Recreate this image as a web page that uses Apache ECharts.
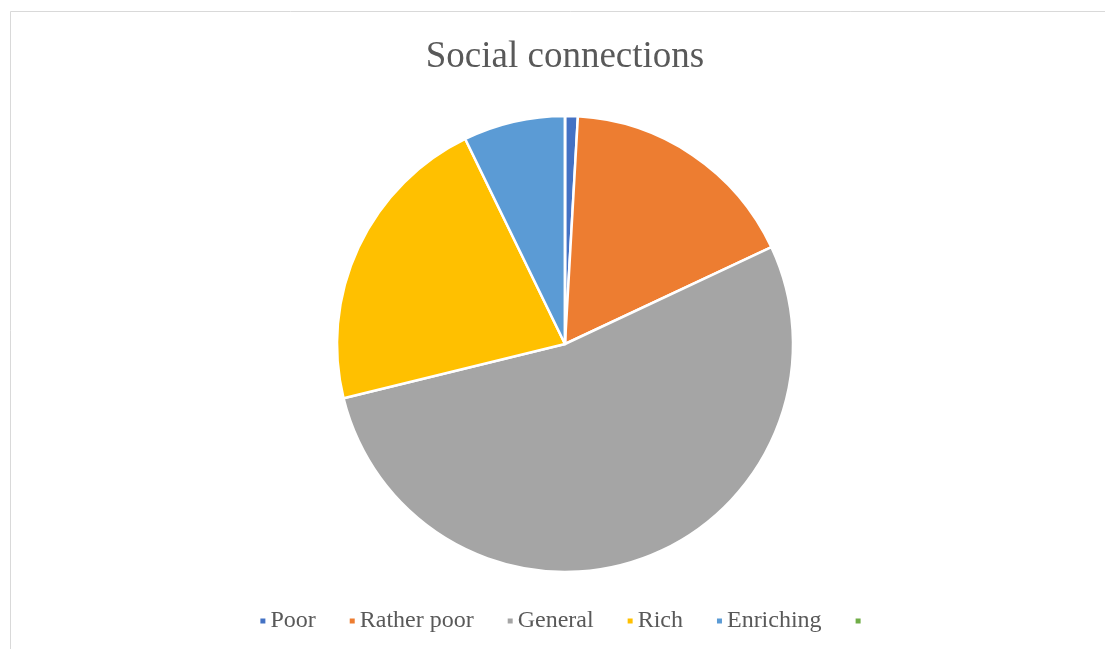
<!DOCTYPE html>
<html>
<head>
<meta charset="utf-8">
<script src="https://cdn.jsdelivr.net/npm/echarts@6/dist/echarts.min.js"></script>
<style>
  html, body { margin: 0; padding: 0; background: #ffffff; overflow: hidden; }
  #wrap { width: 1105px; height: 649px; overflow: hidden; }
  /* the chart area runs a little past the right edge of the view */
  #chart { width: 1130px; height: 649px; }
</style>
</head>
<body>
<div id="wrap"><div id="chart"></div></div>
<script>
// Survey answers: how people rate their social connections (respondent counts)
const categories = ['Poor', 'Rather poor', 'General', 'Rich', 'Enriching', ' '];
const counts = [1, 19, 59, 24, 8, 0];
const colors = ['#4472C4', '#ED7D31', '#A5A5A5', '#FFC000', '#5B9BD5', '#70AD47'];

const chart = echarts.init(document.getElementById('chart'), null, { renderer: 'canvas' });

const pieData = categories.map((name, i) => ({
  name: name,
  value: counts[i],
  itemStyle: { color: colors[i] }
}));

chart.setOption({
  backgroundColor: '#ffffff',
  animation: false,
  title: {
    text: 'Social connections',
    left: 'center',
    top: 34,
    textStyle: {
      fontFamily: 'Liberation Serif',
      fontSize: 37,
      fontWeight: 'normal',
      color: '#595959'
    }
  },
  legend: {
    data: categories,
    bottom: 11,
    left: 'center',
    icon: 'rect',
    itemWidth: 7,
    itemHeight: 7,
    itemGap: 32,
    textStyle: {
      fontFamily: 'Liberation Serif',
      fontSize: 24,
      color: '#595959',
      padding: [0, 0, 0, -1]
    }
  },
  graphic: [{
    type: 'rect',
    silent: true,
    shape: { x: 10.5, y: 11.5, width: 1200, height: 800 },
    style: { fill: null, stroke: '#d9d9d9', lineWidth: 1 }
  }],
  series: [{
    type: 'pie',
    center: [565, 344],
    radius: 228,
    startAngle: 90,
    clockwise: true,
    avoidLabelOverlap: false,
    label: { show: false },
    labelLine: { show: false },
    emphasis: { disabled: true },
    itemStyle: { borderColor: '#ffffff', borderWidth: 2.5 },
    data: pieData
  }]
});
</script>
</body>
</html>
